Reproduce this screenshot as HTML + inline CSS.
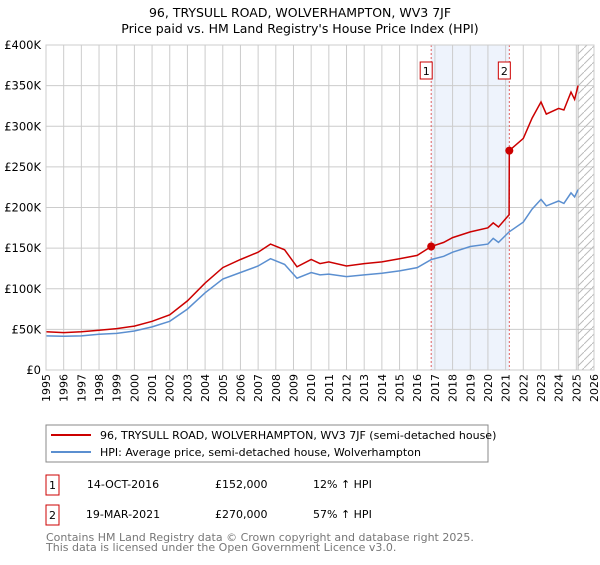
<!DOCTYPE html>
<html><head><meta charset="utf-8"><style>
body{margin:0;background:#fff;font-family:"Liberation Sans","DejaVu Sans",sans-serif;}
svg text{font-family:"DejaVu Sans","Liberation Sans",sans-serif;}
</style></head><body>
<svg id="c" width="600" height="560" xmlns="http://www.w3.org/2000/svg">
<text x="300" y="17" text-anchor="middle" font-size="12.5" fill="#000">96, TRYSULL ROAD, WOLVERHAMPTON, WV3 7JF</text>
<text x="300" y="33" text-anchor="middle" font-size="12.5" fill="#000">Price paid vs. HM Land Registry's House Price Index (HPI)</text>
<g id="plot"></g>
<g>
<rect x="46" y="425" width="442" height="37" fill="#fff" stroke="#888"/>
<line x1="51" y1="435" x2="91" y2="435" stroke="#cc0000" stroke-width="2"/>
<text x="100" y="439" font-size="11">96, TRYSULL ROAD, WOLVERHAMPTON, WV3 7JF (semi-detached house)</text>
<line x1="51" y1="452" x2="91" y2="452" stroke="#5b8fd0" stroke-width="2"/>
<text x="100" y="456" font-size="11">HPI: Average price, semi-detached house, Wolverhampton</text>
</g>
<g font-size="11">
<rect x="46" y="475" width="13" height="20" fill="#fff" stroke="#cc0000"/>
<text x="52.5" y="489" text-anchor="middle">1</text>
<text x="123" y="488" text-anchor="middle">14-OCT-2016</text>
<text x="215" y="488">£152,000</text>
<text x="313" y="488">12% ↑ HPI</text>
<rect x="46" y="505" width="13" height="20" fill="#fff" stroke="#cc0000"/>
<text x="52.5" y="519" text-anchor="middle">2</text>
<text x="123" y="518" text-anchor="middle">19-MAR-2021</text>
<text x="215" y="518">£270,000</text>
<text x="313" y="518">57% ↑ HPI</text>
</g>
<text x="46" y="541" font-size="11" fill="#777">Contains HM Land Registry data © Crown copyright and database right 2025.</text>
<text x="46" y="551" font-size="11" fill="#777">This data is licensed under the Open Government Licence v3.0.</text>
</svg>
<script>
const hpiYears=[1995,1996,1997,1998,1999,2000,2001,2002,2003,2004,2005,2006,2007,2007.7,2008.5,2009.2,2010,2010.5,2011,2012,2013,2014,2015,2016,2016.8,2017.5,2018,2019,2020,2020.3,2020.6,2021.2,2022,2022.5,2023,2023.3,2024,2024.3,2024.7,2024.9,2025.1];
const hpiValues=[42,41.5,42,44,45,48,53,60,75,95,112,120,128,137,130,113,120,117,118,115,117,119,122,126,136,140,145,152,155,162,157,170,182,198,210,202,208,205,218,213,222];
const propYears=[1995,1996,1997,1998,1999,2000,2001,2002,2003,2004,2005,2006,2007,2007.7,2008.5,2009.2,2010,2010.5,2011,2012,2013,2014,2015,2016,2016.79,2017.5,2018,2019,2020,2020.3,2020.6,2021.2,2021.21,2022,2022.5,2023,2023.3,2024,2024.3,2024.7,2024.9,2025.1];
const propValues=[47,46,47,49,51,54,60,68,85,107,126,136,145,155,148,127,136,131,133,128,131,133,137,141,152,157,163,170,175,181,176,191,270,285,310,330,315,322,320,342,333,350];
const saleYears=[2016.79,2021.21];
const saleValues=[152,270];
const saleLabels=["1","2"];
const yTicks=[0,50,100,150,200,250,300,350,400];
const yTickLabels=["£0","£50K","£100K","£150K","£200K","£250K","£300K","£350K","£400K"];
const xTicks=[];for(let y=1995;y<=2026;y++)xTicks.push(y);

const X0=46,X1=594,Y0=370,Y1=45;
const xs=v=>X0+(v-1995)/(2026-1995)*(X1-X0);
const ys=v=>Y0-v/400*(Y0-Y1);
const NS="http://www.w3.org/2000/svg";
const g=document.getElementById('plot');
function mk(t,a){const e=document.createElementNS(NS,t);for(const k in a)e.setAttribute(k,a[k]);g.appendChild(e);return e;}
let e;
e=mk('rect',{x:xs(saleYears[0]),y:Y1,width:xs(saleYears[1])-xs(saleYears[0]),height:Y0-Y1,fill:'#eef3fc'});


xTicks.forEach(t=>{e=mk('line',{x1:xs(t),x2:xs(t),y1:Y1,y2:Y0,stroke:'#ccc','stroke-width':1});


e=mk('text',{x:0,y:0,'font-size':11,'text-anchor':'end',transform:`translate(${xs(t)+4},${Y0+4}) rotate(-90)`});e.textContent=t;

});
yTicks.forEach((t,i)=>{e=mk('line',{x1:X0,x2:X1,y1:ys(t),y2:ys(t),stroke:'#ccc','stroke-width':1});


e=mk('text',{x:X0-5,y:ys(t)+4,'font-size':11.5,'text-anchor':'end'});e.textContent=yTickLabels[i];

});
// hatch
const defs=document.createElementNS(NS,'defs');defs.innerHTML='<pattern id="h" width="8" height="8" patternUnits="userSpaceOnUse"><path d="M0,8 L8,0" stroke="#bbb" stroke-width="1"/></pattern>';g.appendChild(defs);
e=mk('rect',{x:xs(2025.1),y:Y1,width:X1-xs(2025.1),height:Y0-Y1,fill:'url(#h)',stroke:'#bbb'});


saleYears.forEach((s,i)=>{e=mk('line',{x1:xs(s),x2:xs(s),y1:Y1,y2:Y0,stroke:'#e06060','stroke-dasharray':'2,2','stroke-width':1});


e=mk('rect',{x:xs(s)-11,y:62,width:12,height:17,fill:'#fff',stroke:'#cc0000'});


e=mk('text',{x:xs(s)-5,y:75,'font-size':11,'text-anchor':'middle'});e.textContent=saleLabels[i];

});
const pts=(a,b)=>a.map((v,i)=>xs(v).toFixed(1)+','+ys(b[i]).toFixed(1)).join(' ');
e=mk('polyline',{points:pts(hpiYears,hpiValues),fill:'none',stroke:'#5b8fd0','stroke-width':1.5});


e=mk('polyline',{points:pts(propYears,propValues),fill:'none',stroke:'#cc0000','stroke-width':1.5});


saleYears.forEach((s,i)=>{e=mk('circle',{cx:xs(s),cy:ys(saleValues[i]),r:4,fill:'#cc0000'});

});
e=mk('rect',{x:X0,y:Y1,width:X1-X0,height:Y0-Y1,fill:'none',stroke:'#ccc'});


</script>
</body></html>
